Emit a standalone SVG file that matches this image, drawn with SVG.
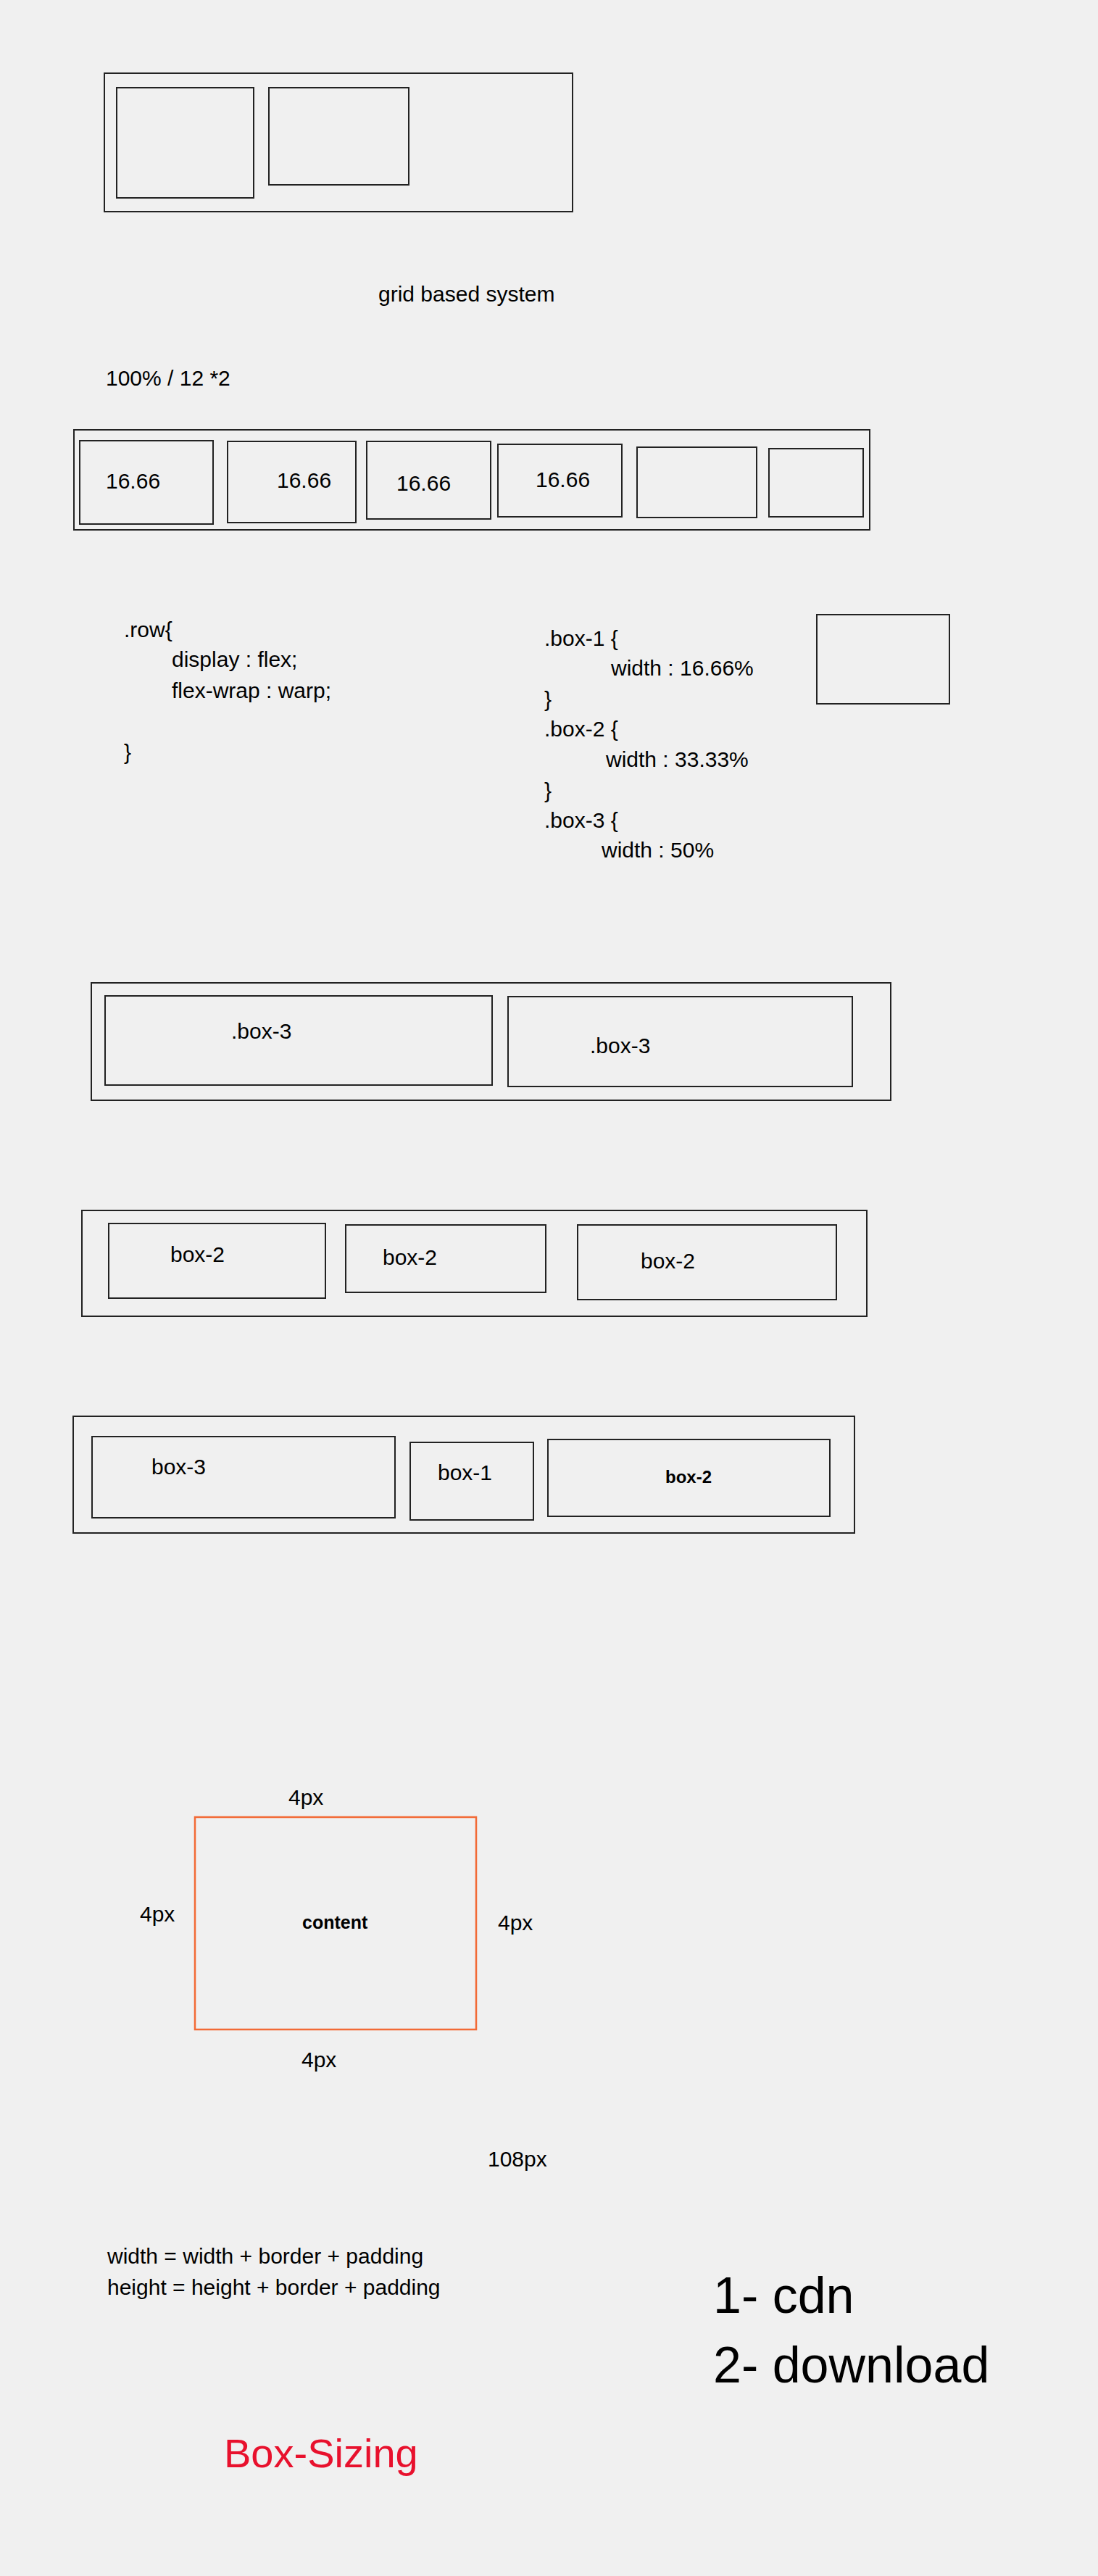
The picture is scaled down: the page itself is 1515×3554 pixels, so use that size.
<svg xmlns="http://www.w3.org/2000/svg" width="1515" height="3554" viewBox="0 0 1515 3554">
<style>
.bg{fill:#f0f0f0}
.box{fill:none;stroke:#222;stroke-width:2}
.obox{fill:none;stroke:#f26a36;stroke-width:2.5}
.t{font-family:"Liberation Sans",Arial,sans-serif;font-size:30px;fill:#000}
.tb{font-family:"Liberation Sans",Arial,sans-serif;font-size:24px;font-weight:bold;fill:#000}
.big{font-family:"Liberation Sans",Arial,sans-serif;font-size:70px;fill:#000}
.red{font-family:"Liberation Sans",Arial,sans-serif;font-size:56px;fill:#e8112d}
</style>
<rect class="bg" x="0" y="0" width="1515" height="3554"/>

<g id="container-1">
<rect class="box" x="144" y="101" width="646" height="191"/>
<rect class="box" x="161" y="121" width="189" height="152"/>
<rect class="box" x="371" y="121" width="193" height="134"/>
</g>

<text class="t" x="522" y="416">grid based system</text>
<text class="t" x="146" y="532">100% / 12 *2</text>

<g id="grid-row">
<rect class="box" x="102" y="593" width="1098" height="138"/>
<g id="g1"><rect class="box" x="110" y="608" width="184" height="115"/><text class="t" x="146" y="674">16.66</text></g>
<g id="g2"><rect class="box" x="314" y="609" width="177" height="112"/><text class="t" x="382" y="673">16.66</text></g>
<g id="g3"><rect class="box" x="506" y="609" width="171" height="107"/><text class="t" x="547" y="677">16.66</text></g>
<g id="g4"><rect class="box" x="687" y="613" width="171" height="100"/><text class="t" x="739" y="672">16.66</text></g>
<g id="g5"><rect class="box" x="879" y="617" width="165" height="97"/></g>
<g id="g6"><rect class="box" x="1061" y="619" width="130" height="94"/></g>
</g>

<g id="css-row">
<text class="t" x="171" y="879">.row{</text>
<text class="t" x="237" y="920">display : flex;</text>
<text class="t" x="237" y="963">flex-wrap : warp;</text>
<text class="t" x="171" y="1048">}</text>
</g>

<g id="css-boxes">
<text class="t" x="751" y="891">.box-1 {</text>
<text class="t" x="843" y="932">width : 16.66%</text>
<text class="t" x="751" y="975">}</text>
<text class="t" x="751" y="1016">.box-2 {</text>
<text class="t" x="836" y="1058">width : 33.33%</text>
<text class="t" x="751" y="1101">}</text>
<text class="t" x="751" y="1142">.box-3 {</text>
<text class="t" x="830" y="1183">width : 50%</text>
</g>

<g id="small-box"><rect class="box" x="1127" y="848" width="183" height="123"/></g>

<g id="row-box3">
<rect class="box" x="126" y="1356" width="1103" height="162"/>
<g id="b3a"><rect class="box" x="145" y="1374" width="534" height="123"/><text class="t" x="319" y="1433">.box-3</text></g>
<g id="b3b"><rect class="box" x="701" y="1375" width="475" height="124"/><text class="t" x="814" y="1453">.box-3</text></g>
</g>

<g id="row-box2">
<rect class="box" x="113" y="1670" width="1083" height="146"/>
<g id="b2a"><rect class="box" x="150" y="1688" width="299" height="103"/><text class="t" x="235" y="1741">box-2</text></g>
<g id="b2b"><rect class="box" x="477" y="1690" width="276" height="93"/><text class="t" x="528" y="1745">box-2</text></g>
<g id="b2c"><rect class="box" x="797" y="1690" width="357" height="103"/><text class="t" x="884" y="1750">box-2</text></g>
</g>

<g id="row-mixed">
<rect class="box" x="101" y="1954" width="1078" height="161"/>
<g id="m3"><rect class="box" x="127" y="1982" width="418" height="112"/><text class="t" x="209" y="2034">box-3</text></g>
<g id="m1"><rect class="box" x="566" y="1990" width="170" height="107"/><text class="t" x="604" y="2042">box-1</text></g>
<g id="m2"><rect class="box" x="756" y="1986" width="389" height="106"/><text class="tb" x="918" y="2046">box-2</text></g>
</g>

<g id="box-model">
<rect class="obox" x="269" y="2507" width="388" height="293"/>
<text class="tb" x="417" y="2661" style="font-size:25px">content</text>
<text class="t" x="398" y="2490">4px</text>
<text class="t" x="193" y="2651">4px</text>
<text class="t" x="687" y="2663">4px</text>
<text class="t" x="416" y="2852">4px</text>
</g>

<text class="t" x="673" y="2989">108px</text>
<text class="t" x="148" y="3123">width = width + border + padding</text>
<text class="t" x="148" y="3166">height = height + border + padding</text>
<text class="big" x="984" y="3191">1- cdn</text>
<text class="big" x="984" y="3287">2- download</text>
<text class="red" x="309" y="3404">Box-Sizing</text>
</svg>
